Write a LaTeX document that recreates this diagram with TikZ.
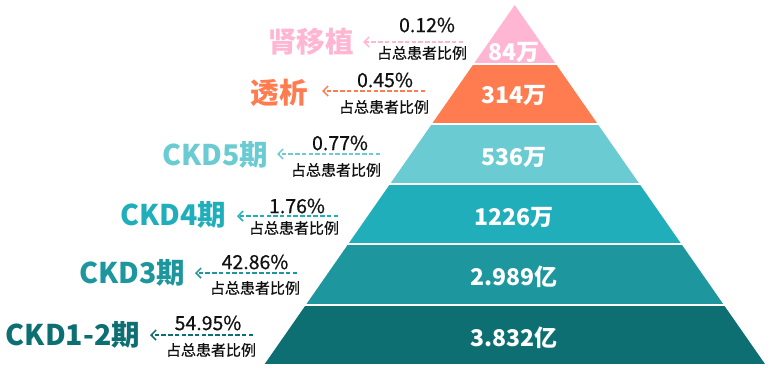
\documentclass[tikz,border=0pt]{standalone}
\usepackage{fontspec}
\setmainfont{Noto Sans CJK SC}
\newfontfamily\medfont[UprightFeatures={FakeBold=0.6}]{Noto Sans CJK SC}
\usetikzlibrary{arrows.meta}
\definecolor{cpink}{HTML}{FFB6D2}
\definecolor{corange}{HTML}{FF7C50}
\definecolor{clteal}{HTML}{6BCBD2}
\definecolor{cteal}{HTML}{21AEBB}
\definecolor{cmteal}{HTML}{1D979D}
\definecolor{cdteal}{HTML}{0E6F73}
\definecolor{ctext}{HTML}{111111}
\tikzset{
  stagelabel/.style={inner sep=0pt, font=\fontsize{28.5}{30}\selectfont\bfseries},
  pctlabel/.style={inner sep=0pt, text=ctext, font=\medfont\fontsize{19.5}{21}\selectfont},
  sharelabel/.style={inner sep=0pt, text=ctext, font=\medfont\fontsize{15}{17}\selectfont},
  valuelabel/.style={inner sep=0pt, text=white, font=\fontsize{23}{25}\selectfont\bfseries},
  ptr/.style={line width=1.5pt, dash pattern=on 4.5pt off 2.2pt, -{Straight Barb[length=5pt,width=10pt,line width=1.5pt]}}
}
\begin{document}
\begin{tikzpicture}[x=1pt,y=-1pt]
\useasboundingbox (0,0) rectangle (770,370);
% pyramid
\begin{scope}
\clip (514.7,5) -- (765,364) -- (264.7,364) -- cycle;
\fill[cpink]   (250,0)     rectangle (780,62.8);
\fill[corange] (250,64.9)  rectangle (780,122.8);
\fill[clteal]  (250,124.8) rectangle (780,182.8);
\fill[cteal]   (250,184.8) rectangle (780,242.8);
\fill[cmteal]  (250,244.8) rectangle (780,304);
\fill[cdteal]  (250,306)   rectangle (780,364);
\end{scope}
% values
\node[valuelabel] (v1) at (514,52) {84万};
\node[valuelabel] (v2) at (514,95) {314万};
\node[valuelabel] (v3) at (514,157) {536万};
\node[valuelabel] (v4) at (514,217) {1226万};
\node[valuelabel] (v5) at (514,277) {2.989亿};
\node[valuelabel] (v6) at (514,338) {3.832亿};
% stage labels
\node[stagelabel,text=cpink]   (s1) at (311,42)  {肾移植};
\node[stagelabel,text=corange] (s2) at (279,93)  {透析};
\node[stagelabel,text=clteal]  (s3) at (215,155) {CKD5期};
\node[stagelabel,text=cteal]   (s4) at (173,215) {CKD4期};
\node[stagelabel,text=cmteal]  (s5) at (132,273) {CKD3期};
\node[stagelabel,text=cdteal]  (s6) at (73,335)  {CKD1-2期};
% percentages
\node[pctlabel] (p1) at (427,25)  {0.12\%};
\node[pctlabel] (p2) at (385,80)  {0.45\%};
\node[pctlabel] (p3) at (340,143) {0.77\%};
\node[pctlabel] (p4) at (297,206) {1.76\%};
\node[pctlabel] (p5) at (255,262) {42.86\%};
\node[pctlabel] (p6) at (208,323) {54.95\%};
% share captions
\node[sharelabel] (r1) at (422,53)  {占总患者比例};
\node[sharelabel] (r2) at (384,107) {占总患者比例};
\node[sharelabel] (r3) at (336,170) {占总患者比例};
\node[sharelabel] (r4) at (294,228) {占总患者比例};
\node[sharelabel] (r5) at (255,288) {占总患者比例};
\node[sharelabel] (r6) at (211,350) {占总患者比例};
% arrows
\coordinate (a1s) at (463,42);  \coordinate (a1e) at (363,42);
\coordinate (a2s) at (425,91);  \coordinate (a2e) at (322,91);
\coordinate (a3s) at (380,154); \coordinate (a3e) at (277,154);
\coordinate (a4s) at (338,216); \coordinate (a4e) at (237,216);
\coordinate (a5s) at (297,273); \coordinate (a5e) at (195,273);
\coordinate (a6s) at (253,335); \coordinate (a6e) at (150,335);
\draw[ptr,cpink]   (a1s) -- (a1e);
\draw[ptr,corange] (a2s) -- (a2e);
\draw[ptr,clteal]  (a3s) -- (a3e);
\draw[ptr,cteal]   (a4s) -- (a4e);
\draw[ptr,cmteal]  (a5s) -- (a5e);
\draw[ptr,cdteal]  (a6s) -- (a6e);
\end{tikzpicture}
\end{document}
